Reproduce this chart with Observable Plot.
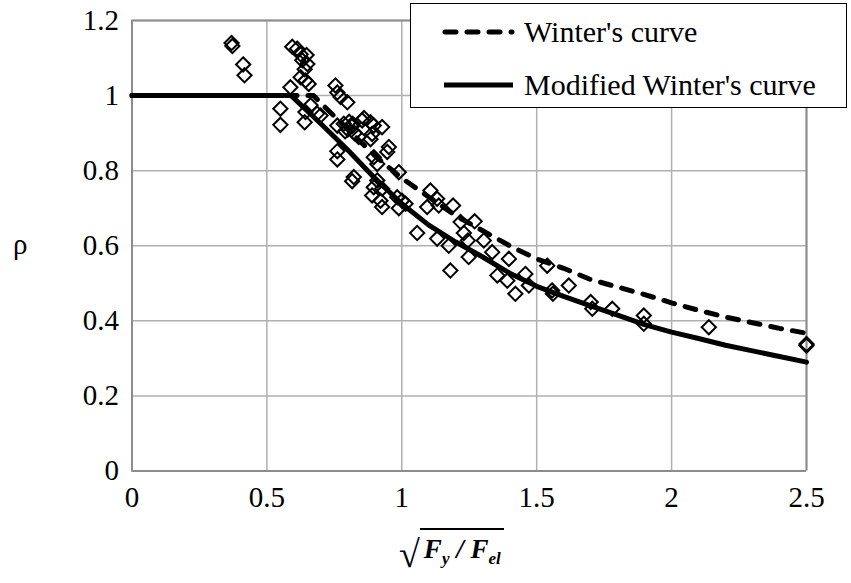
<!DOCTYPE html>
<html>
<head>
<meta charset="utf-8">
<script src="https://cdn.jsdelivr.net/npm/d3@7"></script>
<script src="https://cdn.jsdelivr.net/npm/@observablehq/plot@0.6"></script>
<style>
  html, body { margin: 0; padding: 0; background: #fff; }
  #wrap { position: relative; width: 851px; height: 583px; font-family: "Liberation Serif", "Times New Roman", serif; }
  #legend { position: absolute; left: 410px; top: 3px; width: 437px; height: 105px; border: 1.5px solid #000; background: #fff; box-sizing: border-box; }
  .lrow { position: absolute; left: 0; font-size: 30px; line-height: 30px; color: #000; white-space: nowrap; }
  .lrow svg { position: absolute; left: 31px; top: 0; }
  .lrow span { position: absolute; left: 113px; top: 0; }
  #ylab { position: absolute; left: 13px; top: 228px; font-size: 29px; }
  #xlab { position: absolute; left: 399px; top: 528px; font-size: 27px; font-weight: bold; font-style: italic; white-space: nowrap; }
  #xlab .rad { font-style: normal; font-weight: normal; font-size: 38px; display: inline-block; vertical-align: top; margin-top: 4px; }
  #xlab .under { border-top: 2px solid #000; display: inline-block; padding: 4px 3px 0 4px; line-height: 30px; }
  #xlab sub { font-size: 17px; vertical-align: -6px; }
</style>
</head>
<body>
<div id="wrap"></div>
<script>
// tick values
const xTicks = [0, 0.5, 1, 1.5, 2, 2.5];
const yTicks = [0, 0.2, 0.4, 0.6, 0.8, 1, 1.2];

// test data (diamonds): sqrt(Fy/Fel) and rho
const ptLambda = [0.369, 0.372, 0.412, 0.417, 0.594, 0.612, 0.625, 0.647, 0.631, 0.650, 0.640, 0.625, 0.643, 0.655, 0.587,
  0.550, 0.550, 0.643, 0.640, 0.662, 0.686, 0.699, 0.754, 0.761, 0.773, 0.798, 0.761, 0.785, 0.800, 0.815,
  0.790, 0.853, 0.884, 0.896, 0.927, 0.884, 0.890, 0.952, 0.946, 0.761, 0.761, 0.896, 0.909, 0.822, 0.816,
  0.989, 0.909, 0.896, 0.927, 0.890, 0.921, 0.927, 0.983, 1.001, 0.989, 1.014, 1.057, 1.106, 1.131, 1.094,
  1.137, 1.190, 1.131, 1.174, 1.180, 1.218, 1.270, 1.230, 1.245, 1.248, 1.304, 1.335, 1.397, 1.354, 1.391,
  1.458, 1.471, 1.421, 1.539, 1.557, 1.560, 1.619, 1.700, 1.706, 1.780, 1.897, 1.897, 2.138, 2.500, 2.500,
  0.825, 0.805, 0.840, 0.860, 0.818];
const ptRho = [1.140, 1.132, 1.083, 1.054, 1.130, 1.125, 1.110, 1.108, 1.094, 1.084, 1.070, 1.049, 1.040, 1.031, 1.022,
  0.965, 0.922, 0.956, 0.929, 0.974, 0.952, 0.947, 1.027, 1.008, 0.996, 0.982, 0.920, 0.925, 0.910, 0.918,
  0.905, 0.934, 0.929, 0.920, 0.916, 0.884, 0.898, 0.863, 0.850, 0.852, 0.830, 0.836, 0.818, 0.783, 0.772,
  0.796, 0.774, 0.756, 0.752, 0.734, 0.720, 0.703, 0.729, 0.720, 0.700, 0.712, 0.634, 0.747, 0.725, 0.703,
  0.707, 0.707, 0.619, 0.600, 0.534, 0.663, 0.665, 0.634, 0.614, 0.570, 0.614, 0.583, 0.565, 0.521, 0.507,
  0.525, 0.494, 0.472, 0.547, 0.481, 0.472, 0.494, 0.450, 0.432, 0.432, 0.414, 0.392, 0.383, 0.338, 0.334,
  0.900, 0.930, 0.890, 0.940, 0.925];

// Winter's curve (dashed)
const winterLambda = [0, 0.673, 0.7, 0.8, 0.9, 1.0, 1.1, 1.2, 1.3, 1.4, 1.5, 1.6, 1.7, 1.8, 1.9, 2.0, 2.1, 2.2, 2.3, 2.4, 2.5];
const winterRho    = [1, 1, 0.98, 0.91, 0.84, 0.78, 0.73, 0.68, 0.64, 0.60, 0.565, 0.54, 0.51, 0.49, 0.47, 0.448, 0.428, 0.41, 0.395, 0.38, 0.367];

// Modified Winter's curve (solid)
const modLambda = [0, 0.59, 0.7, 0.8, 0.9, 1.0, 1.1, 1.2, 1.3, 1.4, 1.5, 1.6, 1.7, 1.8, 1.9, 2.0, 2.1, 2.2, 2.3, 2.4, 2.5];
const modRho    = [1, 1, 0.925, 0.855, 0.78, 0.712, 0.655, 0.61, 0.57, 0.527, 0.492, 0.465, 0.44, 0.415, 0.39, 0.37, 0.353, 0.335, 0.32, 0.305, 0.29];

const points = ptLambda.map((x, i) => ({x, y: ptRho[i]}));
const winter = winterLambda.map((x, i) => ({x, y: winterRho[i]}));
const modified = modLambda.map((x, i) => ({x, y: modRho[i]}));

const serif = '"Liberation Serif", "Times New Roman", Times, serif';

const chart = Plot.plot({
  width: 851,
  height: 583,
  marginLeft: 131.5,
  marginRight: 45,
  marginTop: 20,
  marginBottom: 112.5,
  style: {fontFamily: serif, fontSize: "29px", color: "#000", background: "#fff"},
  x: {domain: [0, 2.5], ticks: xTicks, tickFormat: d => String(d), tickSize: 0, tickPadding: 15, label: null},
  y: {domain: [0, 1.2], ticks: yTicks, tickFormat: d => String(d), tickSize: 0, tickPadding: 13, label: null},
  marks: [
    Plot.gridX(xTicks, {stroke: "#b0b0b0", strokeOpacity: 1, strokeWidth: 1.5}),
    Plot.gridY(yTicks, {stroke: "#b0b0b0", strokeOpacity: 1, strokeWidth: 1.5}),
    Plot.ruleX([0, 2.5], {stroke: "#8c8c8c", strokeWidth: 2}),
    Plot.ruleY([0, 1.2], {stroke: "#8c8c8c", strokeWidth: 2}),
    Plot.dot(points, {x: "x", y: "y", symbol: "diamond2", r: 6.4, stroke: "#000", strokeWidth: 2, fill: "none"}),
    Plot.line(winter, {x: "x", y: "y", stroke: "#000", strokeWidth: 5, strokeDasharray: "11,11", strokeLinecap: "round"}),
    Plot.line(modified, {x: "x", y: "y", stroke: "#000", strokeWidth: 5})
  ]
});

// force serif font on every text node of the chart
chart.style.setProperty("font-family", serif, "important");
chart.querySelectorAll("g, text, tspan").forEach(el => {
  el.setAttribute("font-family", serif);
  el.style.setProperty("font-family", serif, "important");
  el.style.setProperty("font-variant", "normal", "important");
});

const wrap = document.getElementById("wrap");
wrap.appendChild(chart);

const legend = document.createElement("div");
legend.id = "legend";
legend.innerHTML = `
  <div class="lrow" style="top:13px"><svg width="80" height="30"><line x1="3" y1="15" x2="70" y2="15" stroke="#000" stroke-width="5" stroke-dasharray="11,11" stroke-linecap="round"/></svg><span>Winter's curve</span></div>
  <div class="lrow" style="top:66px"><svg width="80" height="30"><line x1="2" y1="15" x2="71" y2="15" stroke="#000" stroke-width="5"/></svg><span>Modified Winter's curve</span></div>`;
wrap.appendChild(legend);

const ylab = document.createElement("div");
ylab.id = "ylab";
ylab.textContent = "ρ";
wrap.appendChild(ylab);

const xlab = document.createElement("div");
xlab.id = "xlab";
xlab.innerHTML = `<span class="rad">√</span><span class="under">F<sub>y</sub> / F<sub>el</sub></span>`;
wrap.appendChild(xlab);
</script>
</body>
</html>
